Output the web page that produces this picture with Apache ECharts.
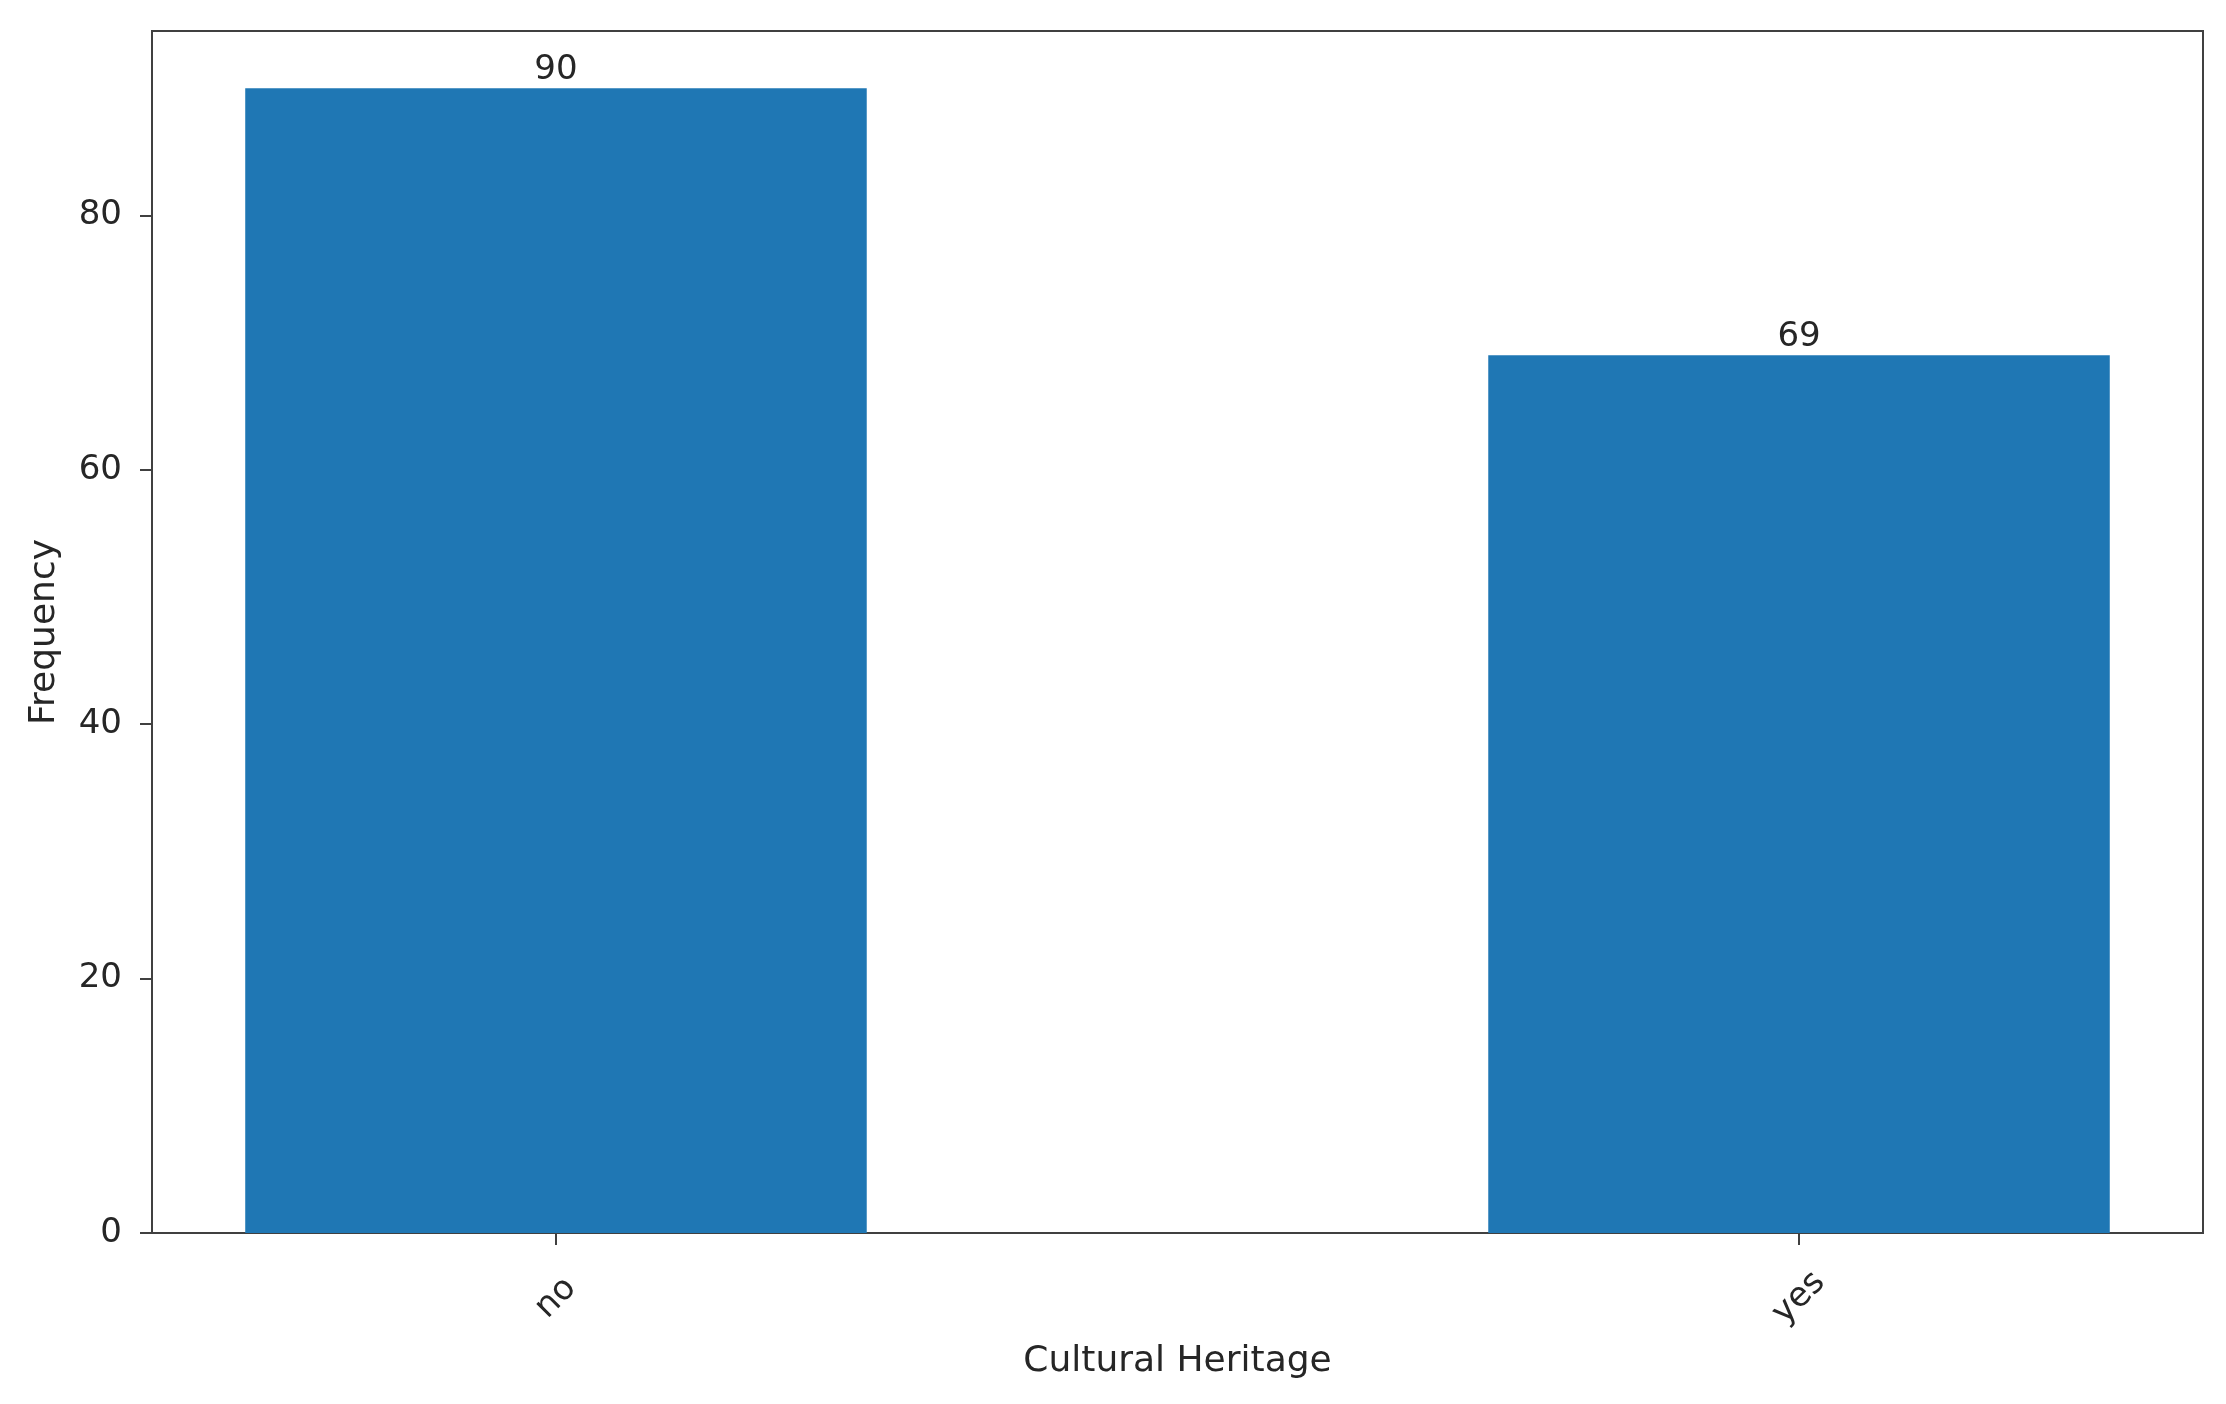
<!DOCTYPE html>
<html lang="en">
<head>
  <meta charset="UTF-8">
  <title>Cultural Heritage</title>
  <script src="https://cdn.jsdelivr.net/npm/echarts@6/dist/echarts.min.js"></script>
</head>
<style>
  * {
    padding: 0px;
    margin: 0px;
  }
  #main {
    width: 2226px;
    height: 1404px;
    background: #fff;
  }
</style>
<body>
<div id="main"></div>
<script>
  // data
  var categories = ['no', 'yes'];
  var frequency = [90, 69];
  var yTicks = [0, 20, 40, 60, 80];

  window.onload = function () {
    var barColor = '#1f77b4';
    var lineColor = '#404040';
    var textColor = '#262626';
    var font = 'DejaVu Sans';

    // grid box in px
    var gLeft = 152, gTop = 31, gRight = 23, gBottom = 171;
    var xMin = -0.325, xMax = 1.325;
    var gridWidth = 2226 - gLeft - gRight;
    var barWidth = gridWidth * 0.5 / (xMax - xMin);

    var myChart = echarts.init(document.getElementById('main'));
    var xIdx = categories.map(function (c, i) { return i; });

    myChart.setOption({
      backgroundColor: '#fff',
      animation: false,
      grid: {
        left: gLeft,
        top: gTop,
        right: gRight,
        bottom: gBottom,
        show: true,
        borderColor: lineColor,
        borderWidth: 2,
        containLabel: false
      },
      xAxis: {
        type: 'value',
        min: xMin,
        max: xMax,
        name: 'Cultural Heritage',
        nameLocation: 'middle',
        nameGap: 111,
        nameTextStyle: {fontFamily: font, fontSize: 36, color: textColor},
        axisLine: {show: true, onZero: false, lineStyle: {color: lineColor, width: 2}},
        axisTick: {show: true, length: 12, customValues: xIdx, lineStyle: {color: lineColor, width: 2}},
        axisLabel: {
          customValues: xIdx,
          formatter: function (v) { return categories[Math.round(v)]; },
          rotate: 45,
          align: 'center',
          verticalAlign: 'middle',
          margin: 65,
          fontFamily: font,
          fontSize: 34,
          color: textColor
        },
        splitLine: {show: false}
      },
      yAxis: {
        type: 'value',
        min: 0,
        max: 94.5,
        name: 'Frequency',
        nameLocation: 'middle',
        nameGap: 89,
        nameTextStyle: {fontFamily: font, fontSize: 36, color: textColor},
        axisLine: {show: true, onZero: false, lineStyle: {color: lineColor, width: 2}},
        axisTick: {show: true, length: 12, customValues: yTicks, lineStyle: {color: lineColor, width: 2}},
        axisLabel: {
          customValues: yTicks,
          margin: 30,
          fontFamily: font,
          fontSize: 34,
          color: textColor
        },
        splitLine: {show: false}
      },
      series: [{
        type: 'bar',
        data: categories.map(function (c, i) { return [i, frequency[i]]; }),
        barWidth: barWidth,
        itemStyle: {color: barColor},
        label: {
          show: true,
          position: 'top',
          distance: 1,
          fontFamily: font,
          fontSize: 34,
          color: textColor
        }
      }]
    });
  };
</script>
</body>
</html>
